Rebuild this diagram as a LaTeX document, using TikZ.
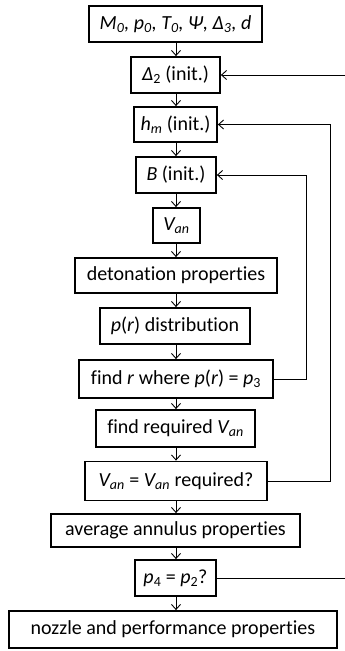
\documentclass[tikz,border=0pt]{standalone}
\usepackage{fontspec}
\setmainfont{Carlito}[Ligatures={NoCommon}]
\usetikzlibrary{arrows.meta}
\begin{document}
\begin{tikzpicture}[x=1pt,y=-1pt,
  box/.style={draw=black,line width=1.8pt,inner sep=0pt,align=center,font=\fontsize{20}{24}\selectfont},
  conn/.style={line width=0.9pt,-{Straight Barb[length=5pt,width=9pt,line width=0.9pt]}},
  line/.style={line width=0.9pt}]
\useasboundingbox (0,0) rectangle (345,651);
\node[box,minimum width=173pt,minimum height=36pt] (n1) at (175.5,24) {\textit{M\textsubscript{0}, p\textsubscript{0}, T\textsubscript{0}, Ψ, Δ\textsubscript{3}, d}};
\node[box,minimum width=89pt,minimum height=36pt] (n2) at (175.5,75) {\textit{Δ}\textsubscript{2} (init.)};
\node[box,minimum width=83pt,minimum height=35pt] (n3) at (175.5,124.5) {\textit{h\textsubscript{m}} (init.)};
\node[box,minimum width=80pt,minimum height=36pt] (n4) at (176,175) {\textit{B} (init.)};
\node[box,minimum width=47pt,minimum height=35pt] (n5) at (176.5,225.5) {\textit{V\textsubscript{an}}};
\node[box,minimum width=202pt,minimum height=35pt] (n6) at (176,275.5) {detonation properties};
\node[box,minimum width=150pt,minimum height=36pt] (n7) at (175,326) {\textit{p}(\textit{r}) distribution};
\node[box,minimum width=194pt,minimum height=38pt] (n8) at (176,379) {find \textit{r} where \textit{p}(\textit{r}) = \textit{p}\textsubscript{3}};
\node[box,minimum width=159pt,minimum height=37pt] (n9) at (175.5,428.5) {find required \textit{V\textsubscript{an}}};
\node[box,minimum width=182pt,minimum height=39pt] (n10) at (176,481) {\textit{V\textsubscript{an}} = \textit{V\textsubscript{an}} required?};
\node[box,minimum width=249pt,minimum height=33pt] (n11) at (175.5,530.5) {average annulus properties};
\node[box,minimum width=81pt,minimum height=36pt] (n12) at (175.5,578) {\textit{p}\textsubscript{4} = \textit{p}\textsubscript{2}?};
\node[box,minimum width=328pt,minimum height=37pt] (n13) at (173,629.5) {nozzle and performance properties};
\foreach \a/\b in {n1/n2,n2/n3,n3/n4,n4/n5,n5/n6,n6/n7,n7/n8,n8/n9,n9/n10,n10/n11,n11/n12,n12/n13}
  \draw[conn] (\a.south -| 176,0) -- (\b.north -| 176,0);
\coordinate (e2) at (345,75);
\coordinate (e12) at (345,578);
\draw[conn] (e2) -- (n2.east);
\draw[line] (n12.east) -- (e12);
\draw[conn] (n10.east) -- (330,481) -- (330,124.5) -- (n3.east);
\draw[conn] (n8.east) -- (306,379) -- (306,175) -- (n4.east);
\end{tikzpicture}
\end{document}
